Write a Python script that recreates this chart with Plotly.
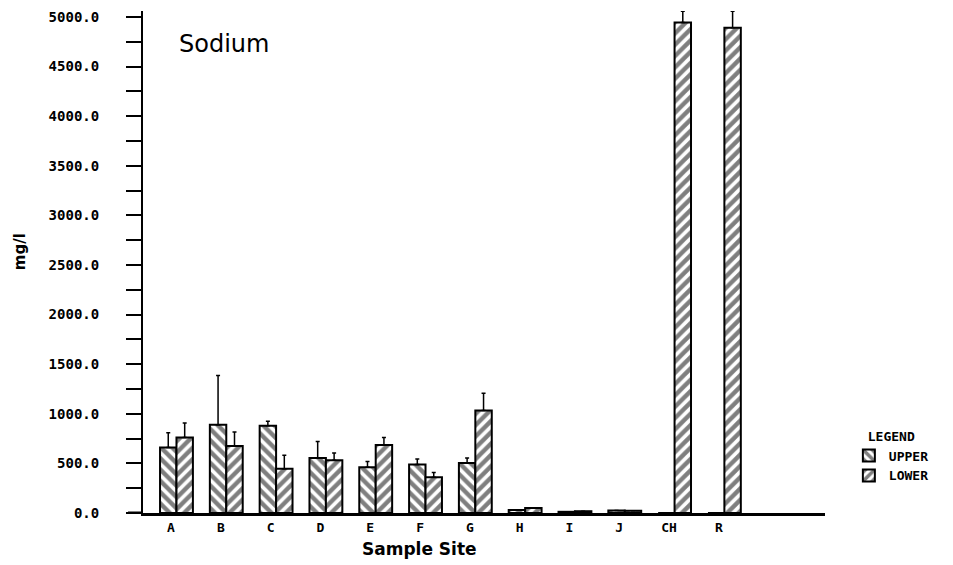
import plotly.graph_objects as go

# Sodium concentration (mg/l) by sample site, upper and lower samples
sites = ["A", "B", "C", "D", "E", "F", "G", "H", "I", "J", "CH", "R"]
upper = [660, 890, 880, 555, 460, 490, 505, 30, 12, 25, 0, 0]
upper_err = [150, 495, 45, 165, 60, 55, 50, 0, 0, 0, 0, 0]
lower = [760, 676, 445, 532, 686, 361, 1034, 50, 18, 22, 4943, 4890]
lower_err = [147, 140, 137, 73, 74, 47, 174, 0, 0, 0, 114, 167]

y_ticks = [0, 500, 1000, 1500, 2000, 2500, 3000, 3500, 4000, 4500, 5000]
y_tick_text = [f"{v:.1f}" for v in y_ticks]

mono = "DejaVu Sans Mono"
zeros = [0] * len(sites)

fig = go.Figure()
fig.add_trace(go.Bar(
    name="UPPER", x=sites, y=upper, width=0.33, offset=-0.22,
    marker=dict(color="white", line=dict(color="black", width=2),
                pattern=dict(shape="\\", fgcolor="black", bgcolor="white",
                             size=8, solidity=0.55)),
    error_y=dict(type="data", symmetric=False, array=upper_err,
                 arrayminus=zeros, color="black", thickness=1.5, width=2),
))
fig.add_trace(go.Bar(
    name="LOWER", x=sites, y=lower, width=0.33, offset=0.11,
    marker=dict(color="white", line=dict(color="black", width=2),
                pattern=dict(shape="/", fgcolor="black", bgcolor="white",
                             size=8, solidity=0.55)),
    error_y=dict(type="data", symmetric=False, array=lower_err,
                 arrayminus=zeros, color="black", thickness=1.5, width=2),
))

fig.update_layout(
    width=953, height=565,
    margin=dict(l=143, r=128, t=9, b=52),
    paper_bgcolor="white", plot_bgcolor="white",
    barmode="overlay",
    showlegend=True,
    legend=dict(
        x=1.035, y=0.178, xanchor="left", yanchor="top",
        title=dict(text="LEGEND", side="top center",
                   font=dict(family=mono, size=13, color="black", weight="bold")),
        font=dict(family=mono, size=13, color="black", weight="bold"),
        itemwidth=30, tracegroupgap=0,
    ),
    xaxis=dict(
        type="category", range=[-0.562, 13.13],
        showline=True, linecolor="black", linewidth=3,
        ticks="", showgrid=False, zeroline=False,
        tickfont=dict(family=mono, size=13, color="black", weight="bold"),
    ),
    yaxis=dict(
        range=[0, 5060],
        tickvals=y_ticks, ticktext=y_tick_text,
        showline=True, linecolor="black", linewidth=2,
        ticks="outside", ticklen=15, tickwidth=2, tickcolor="black",
        minor=dict(dtick=250, ticks="outside", ticklen=15, tickwidth=2,
                   tickcolor="black"),
        ticklabelstandoff=24,
        showgrid=False, zeroline=False,
        tickfont=dict(family=mono, size=14, color="black", weight="bold"),
    ),
    annotations=[
        dict(text="Sodium", xref="paper", yref="paper", x=0.05, y=0.935,
             xanchor="left", yanchor="middle", showarrow=False,
             font=dict(family="DejaVu Sans", size=24, color="black")),
        dict(text="Sample Site", xref="paper", yref="paper", x=0.406, y=-0.072,
             xanchor="center", yanchor="middle", showarrow=False,
             font=dict(family="DejaVu Sans", size=17, color="black", weight="bold")),
        dict(text="mg/l", xref="paper", yref="paper", x=-0.18, y=0.52,
             xanchor="center", yanchor="middle", showarrow=False, textangle=-90,
             font=dict(family="DejaVu Sans", size=15, color="black", weight="bold")),
    ],
    shapes=[
        # x axis baseline continues a little to the left of the y axis
        dict(type="line", xref="paper", yref="y", x0=-0.022, x1=0, y0=0, y1=0,
             line=dict(color="black", width=3)),
    ],
)

fig.write_html("out.html")
